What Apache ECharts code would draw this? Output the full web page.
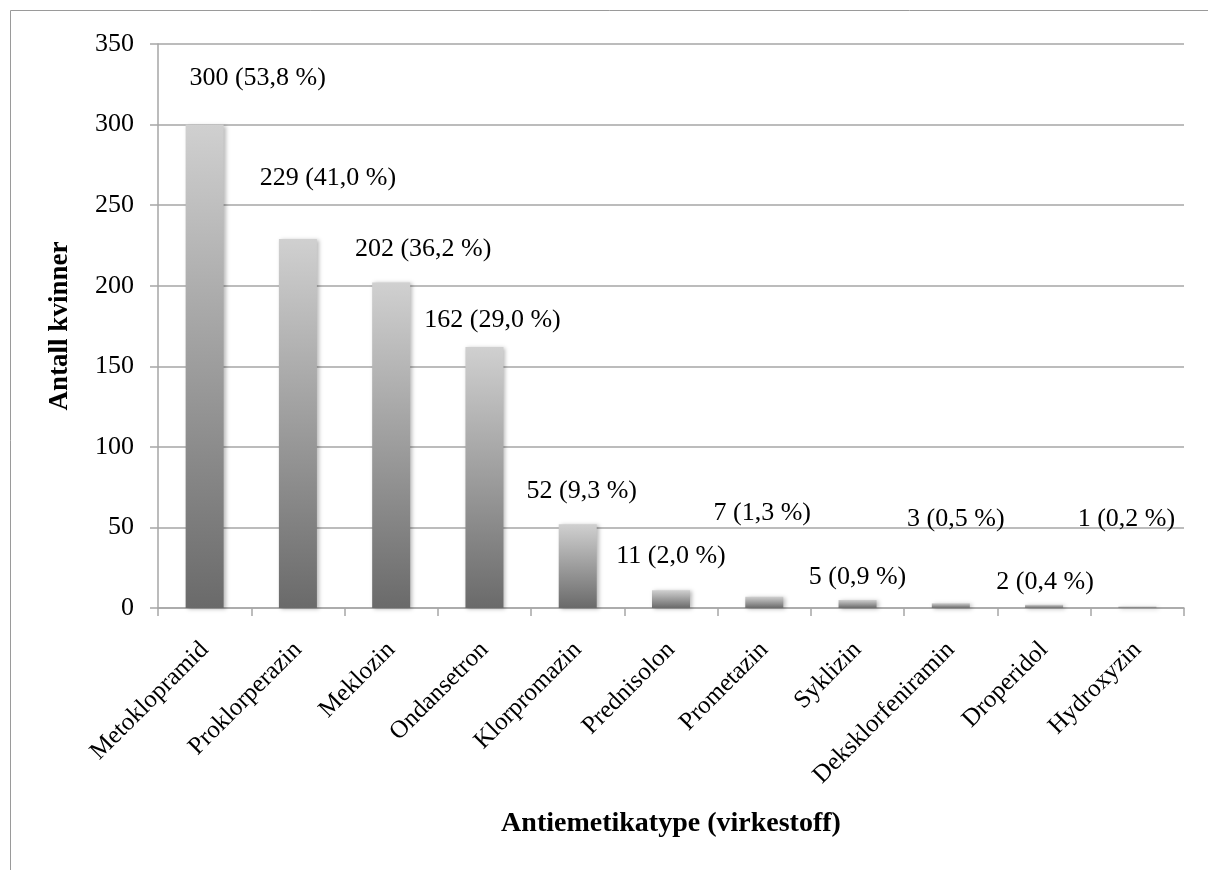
<!DOCTYPE html>
<html>
<head>
<meta charset="utf-8">
<script src="https://cdn.jsdelivr.net/npm/echarts@6/dist/echarts.min.js"></script>
<style>
  html, body { margin: 0; padding: 0; background: #ffffff; }
  #chart { width: 1208px; height: 870px; }
</style>
</head>
<body>
<div id="chart"></div>
<script>
// Antiemetics used, by active substance
const categories = ['Metoklopramid', 'Proklorperazin', 'Meklozin', 'Ondansetron', 'Klorpromazin',
  'Prednisolon', 'Prometazin', 'Syklizin', 'Deksklorfeniramin', 'Droperidol', 'Hydroxyzin'];
const counts = [300, 229, 202, 162, 52, 11, 7, 5, 3, 2, 1];
const shares = [53.8, 41.0, 36.2, 29.0, 9.3, 2.0, 1.3, 0.9, 0.5, 0.4, 0.2];
const yTicks = [0, 50, 100, 150, 200, 250, 300, 350];

// where each value label sits relative to the top of its bar [dx, dy]
const labelOffsets = [[53, -28], [30, -43], [32, -15], [8, -9], [4, -15], [0, -16],
  [-2, -66], [0, -5], [5, -66], [1, -5], [-11, -69]];

const serif = '"Liberation Serif", "Times New Roman", serif';
const gridGray = '#a6a6a6';

const chart = echarts.init(document.getElementById('chart'), null, { renderer: 'canvas' });

const barFill = new echarts.graphic.LinearGradient(0, 0, 0, 1, [
  { offset: 0, color: '#d0d0d0' },
  { offset: 1, color: '#6a6a6a' }
]);

const fmtShare = v => v.toFixed(1).replace('.', ',');

chart.setOption({
  backgroundColor: '#ffffff',
  animation: false,
  graphic: [{
    type: 'rect',
    shape: { x: 10.5, y: 10.5, width: 1400, height: 1000 },
    style: { fill: 'none', stroke: '#9a9a9a', lineWidth: 1 },
    silent: true
  }],
  grid: { left: 158, right: 24, top: 44, bottom: 262, containLabel: false },
  xAxis: {
    type: 'category',
    data: categories,
    boundaryGap: true,
    name: 'Antiemetikatype (virkestoff)',
    nameLocation: 'middle',
    nameGap: 202,
    nameTextStyle: { fontFamily: serif, fontWeight: 'bold', fontSize: 28, color: '#000' },
    axisLine: { show: true, lineStyle: { color: gridGray, width: 1.5 } },
    axisTick: { show: true, length: 8, alignWithLabel: false, lineStyle: { color: gridGray, width: 1.5 } },
    axisLabel: {
      rotate: 45, margin: 38, interval: 0,
      fontFamily: serif, fontSize: 25, color: '#000'
    },
    splitLine: { show: false }
  },
  yAxis: {
    type: 'value',
    min: yTicks[0],
    max: yTicks[yTicks.length - 1],
    interval: yTicks[1] - yTicks[0],
    name: 'Antall kvinner',
    nameLocation: 'middle',
    nameGap: 84,
    nameRotate: 90,
    nameTextStyle: { fontFamily: serif, fontWeight: 'bold', fontSize: 27, color: '#000' },
    axisLine: { show: true, lineStyle: { color: gridGray, width: 1.5 } },
    axisTick: { show: true, length: 8, lineStyle: { color: gridGray, width: 1.5 } },
    axisLabel: { margin: 24, fontFamily: serif, fontSize: 26, color: '#000' },
    splitLine: { show: true, lineStyle: { color: gridGray, width: 1.5 } }
  },
  series: [{
    type: 'bar',
    barWidth: 38,
    data: counts.map((v, i) => ({
      value: v,
      label: { offset: labelOffsets[i] }
    })),
    itemStyle: {
      color: barFill,
      shadowBlur: 4,
      shadowOffsetX: 2,
      shadowOffsetY: 1,
      shadowColor: 'rgba(0,0,0,0.28)'
    },
    label: {
      show: true,
      position: 'top',
      distance: 5,
      fontFamily: serif,
      fontSize: 26,
      color: '#000',
      formatter: p => p.value + ' (' + fmtShare(shares[p.dataIndex]) + ' %)'
    }
  }]
});
</script>
</body>
</html>
